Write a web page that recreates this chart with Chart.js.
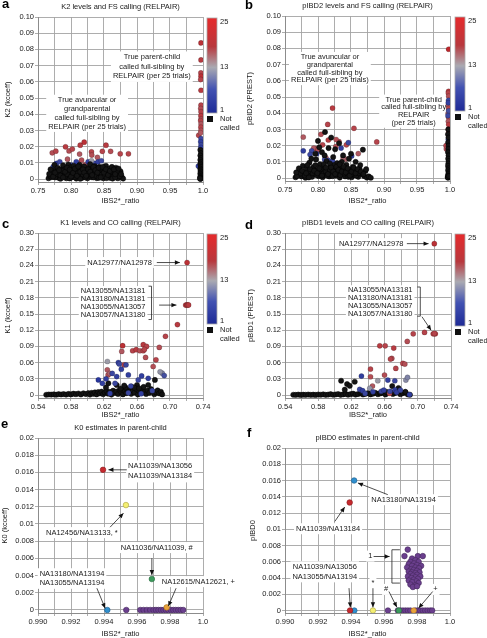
<!DOCTYPE html>
<html>
<head>
<meta charset="utf-8">
<script src="https://cdn.jsdelivr.net/npm/chart.js@4.4.1/dist/chart.umd.min.js"></script>
<style>
  body { margin: 0; background: #fff; width: 487px; height: 638px; position: relative; overflow: hidden; }
  .p { position: absolute; }
  .lt { position: absolute; font: bold 13px "Liberation Sans", Arial, sans-serif; line-height: 13px; color: #000; }
</style>
</head>
<body>
<div class="p" style="left:0;top:0"><canvas id="ca" width="243" height="210"></canvas></div>
<div class="p" style="left:243px;top:0"><canvas id="cb" width="244" height="210"></canvas></div>
<div class="p" style="left:0;top:210px"><canvas id="cc" width="243" height="210"></canvas></div>
<div class="p" style="left:243px;top:210px"><canvas id="cd" width="244" height="210"></canvas></div>
<div class="p" style="left:0;top:420px"><canvas id="ce" width="243" height="218"></canvas></div>
<div class="p" style="left:243px;top:420px"><canvas id="cf" width="244" height="218"></canvas></div>
<div class="lt" style="left:2px;top:-3px">a</div>
<div class="lt" style="left:245px;top:-2px">b</div>
<div class="lt" style="left:2px;top:217px">c</div>
<div class="lt" style="left:245px;top:218px">d</div>
<div class="lt" style="left:1px;top:417px">e</div>
<div class="lt" style="left:247px;top:426px">f</div>
<script>
// ---- tick labels ----
var xLabAB = ['0.75', '0.80', '0.85', '0.90', '0.95', '1.0'];
var yLabAB = ['0', '0.01', '0.02', '0.03', '0.04', '0.05', '0.06', '0.07', '0.08', '0.09', '0.10'];
var xLabCD = ['0.54', '0.58', '0.62', '0.66', '0.70', '0.74'];
var yLabCD = ['0', '0.03', '0.06', '0.09', '0.12', '0.15', '0.18', '0.21', '0.24', '0.27', '0.30'];
var xLabEF = ['0.990', '0.992', '0.994', '0.996', '0.998', '1.0'];
var yLabEF = ['0', '0.002', '0.004', '0.006', '0.008', '0.01', '0.012', '0.014', '0.016', '0.018', '0.02'];

// ---- panel a: K2 vs IBS2*_ratio ; [x, y] not called, [x, y, trials] called ----
var aBlack = [[0.766,0.0005],[0.770,0.0012],[0.772,0.0030],[0.774,0.0055],[0.775,0.0088],[0.777,0.0020],[0.778,0.0045],[0.780,0.0070],[0.781,0.0008],[0.783,0.0035],[0.785,0.0060],[0.786,0.0015],[0.788,0.0085],[0.789,0.0040],[0.790,0.0025],[0.792,0.0065],[0.793,0.0005],[0.795,0.0048],[0.796,0.0090],[0.797,0.0018],[0.799,0.0072],[0.800,0.0033],[0.801,0.0010],[0.803,0.0056],[0.804,0.0082],[0.805,0.0025],[0.807,0.0042],[0.808,0.0003],[0.809,0.0068],[0.811,0.0015],[0.812,0.0050],[0.813,0.0088],[0.815,0.0030],[0.816,0.0062],[0.817,0.0008],[0.819,0.0045],[0.820,0.0078],[0.821,0.0020],[0.823,0.0055],[0.824,0.0035],[0.825,0.0005],[0.827,0.0070],[0.828,0.0028],[0.829,0.0092],[0.831,0.0012],[0.832,0.0048],[0.833,0.0065],[0.835,0.0022],[0.836,0.0080],[0.837,0.0038],[0.839,0.0006],[0.840,0.0058],[0.841,0.0030],[0.843,0.0075],[0.844,0.0015],[0.845,0.0045],[0.847,0.0062],[0.848,0.0025],[0.849,0.0005],[0.851,0.0052],[0.852,0.0035],[0.853,0.0082],[0.855,0.0018],[0.856,0.0042],[0.858,0.0065],[0.859,0.0008],[0.861,0.0030],[0.862,0.0055],[0.864,0.0015],[0.866,0.0040],[0.868,0.0070],[0.869,0.0022],[0.871,0.0005],[0.873,0.0032],[0.875,0.0048],[0.877,0.0012],[0.879,0.0003],
  [0.768,0.0022],[0.776,0.0010],[0.784,0.0002],[0.791,0.0012],[0.798,0.0004],[0.806,0.0012],[0.814,0.0002],[0.818,0.0028],[0.822,0.0010],[0.826,0.0045],[0.830,0.0030],[0.834,0.0010],[0.838,0.0020],[0.842,0.0008],[0.846,0.0028],[0.850,0.0018],[0.854,0.0006],[0.857,0.0028],[0.860,0.0045],[0.863,0.0003],[0.867,0.0010],[0.870,0.0050],[0.874,0.0018],[0.810,0.0035],[0.802,0.0022],[0.794,0.0030],[0.787,0.0050],[0.779,0.0030],[0.771,0.0045],
  [0.767,0.0032],[0.769,0.0060],[0.773,0.0015],[0.776,0.0040],[0.782,0.0055],[0.784,0.0022],[0.788,0.0010],[0.791,0.0045],[0.794,0.0070],[0.798,0.0058],[0.800,0.0015],[0.803,0.0038],[0.806,0.0065],[0.809,0.0020],[0.811,0.0078],[0.814,0.0045],[0.818,0.0060],[0.820,0.0040],[0.823,0.0020],[0.826,0.0060],[0.829,0.0045],[0.832,0.0025],[0.834,0.0075],[0.837,0.0055],[0.840,0.0040],[0.842,0.0070],[0.845,0.0010],[0.848,0.0075],[0.850,0.0040],[0.853,0.0060],[0.856,0.0025],[0.859,0.0050],[0.862,0.0075],[0.865,0.0060],[0.867,0.0030],[0.872,0.0065],[0.876,0.0030],
  [0.996,0.018],[0.997,0.016],[0.996,0.0145],[0.997,0.013],[0.996,0.0118],[0.997,0.0105],[0.996,0.0095],[0.9965,0.0085],[0.997,0.0075],[0.996,0.0065],[0.9968,0.0058],[0.9962,0.005],[0.997,0.0043],[0.996,0.0035],[0.9966,0.0028],[0.997,0.002],[0.9958,0.0014],[0.9965,0.0008],[0.997,0.0003],[0.996,0.0001],[0.9955,0.0004]];
var aCalled = [[0.7716,0.0162,21],[0.777,0.0172,22],[0.7917,0.0199,23],[0.797,0.0174,21],[0.802,0.0185,22],[0.814,0.0209,23],[0.820,0.0228,24],[0.813,0.0154,20],[0.831,0.0168,22],[0.8315,0.0148,21],[0.840,0.0134,20],[0.8475,0.0171,22],[0.853,0.0209,23],[0.860,0.0171,21],[0.8746,0.0156,22],[0.887,0.0156,22],[0.7947,0.0123,20],[0.811,0.0097,19],[0.816,0.0117,21],[0.821,0.0090,20],[0.813,0.0062,19],[0.826,0.0076,20],
  [0.778,0.0097,2],[0.783,0.0107,3],[0.773,0.0076,2],[0.8007,0.0086,3],[0.808,0.0107,2],[0.836,0.0097,3],[0.841,0.0107,2],[0.846,0.0113,3],[0.826,0.0107,2],[0.831,0.0086,3],[0.851,0.0076,2],[0.831,0.0113,13],
  [0.997,0.084,24],[0.997,0.0735,23],[0.9968,0.0655,22],[0.997,0.0635,24],[0.9965,0.0614,22],[0.997,0.0548,23],[0.997,0.0456,22],[0.9965,0.0435,21],[0.997,0.0415,22],[0.9968,0.039,23],[0.997,0.037,21],[0.9965,0.036,22],[0.997,0.034,20],[0.9968,0.032,22],[0.997,0.030,21],[0.9935,0.027,22],[0.9965,0.0285,20],
  [0.997,0.025,3],[0.9965,0.023,2],[0.997,0.021,3],[0.993,0.008,2],[0.9968,0.0195,2]];

// ---- panel b: pIBD2 vs IBS2*_ratio ----
var bBlack = [[0.766,0.0005],[0.770,0.0020],[0.772,0.0048],[0.775,0.0010],[0.777,0.0075],[0.779,0.0032],[0.781,0.0002],[0.783,0.0058],[0.785,0.0018],[0.787,0.0095],[0.789,0.0040],[0.791,0.0008],[0.793,0.0068],[0.795,0.0025],[0.797,0.0115],[0.799,0.0050],[0.800,0.0229],[0.801,0.0012],[0.803,0.0085],[0.805,0.0035],[0.806,0.0160],[0.807,0.0005],[0.809,0.0062],[0.8106,0.0284],[0.811,0.0022],[0.813,0.0105],[0.815,0.0045],[0.816,0.0185],[0.817,0.0010],[0.819,0.0075],[0.820,0.0250],[0.821,0.0030],[0.823,0.0130],[0.825,0.0055],[0.826,0.0178],[0.827,0.0015],[0.829,0.0092],[0.831,0.0038],[0.832,0.0215],[0.833,0.0003],[0.835,0.0068],[0.837,0.0025],[0.838,0.0140],[0.839,0.0048],[0.841,0.0010],[0.843,0.0082],[0.845,0.0030],[0.847,0.0120],[0.849,0.0052],[0.851,0.0005],[0.853,0.0070],[0.855,0.0020],[0.857,0.0100],[0.859,0.0040],[0.861,0.0008],[0.863,0.0058],[0.866,0.0025],[0.868,0.0175],[0.870,0.0012],[0.872,0.0045],[0.874,0.0003],[0.877,0.0010],[0.880,0.0002],
  [0.768,0.0012],[0.774,0.0028],[0.780,0.0015],[0.786,0.0004],[0.792,0.0030],[0.798,0.0018],[0.804,0.0055],[0.808,0.0028],[0.812,0.0040],[0.814,0.0015],[0.818,0.0050],[0.822,0.0012],[0.824,0.0080],[0.828,0.0042],[0.830,0.0060],[0.834,0.0018],[0.836,0.0100],[0.840,0.0028],[0.842,0.0060],[0.846,0.0008],[0.848,0.0035],[0.850,0.0150],[0.852,0.0025],[0.856,0.0045],[0.858,0.0015],[0.862,0.0030],[0.864,0.0080],[0.796,0.0150],[0.802,0.0190],[0.790,0.0120],[0.810,0.0140],
  [0.767,0.0035],[0.771,0.0060],[0.776,0.0045],[0.782,0.0030],[0.784,0.0080],[0.788,0.0055],[0.794,0.0045],[0.796,0.0080],[0.799,0.0030],[0.802,0.0060],[0.806,0.0015],[0.809,0.0085],[0.812,0.0065],[0.815,0.0025],[0.818,0.0090],[0.820,0.0065],[0.823,0.0040],[0.826,0.0025],[0.828,0.0070],[0.831,0.0050],[0.833,0.0085],[0.836,0.0040],[0.839,0.0070],[0.842,0.0035],[0.845,0.0060],[0.848,0.0015],[0.851,0.0040],[0.854,0.0065],[0.857,0.0030],[0.860,0.0055],[0.865,0.0040],[0.869,0.0025],[0.873,0.0055],
  [0.9975,0.030],[0.997,0.027],[0.9978,0.025],[0.9972,0.022],[0.998,0.020],[0.9975,0.018],[0.997,0.016],[0.9978,0.014],[0.9973,0.012],[0.998,0.0105],[0.9975,0.009],[0.997,0.0075],[0.9978,0.006],[0.9972,0.0048],[0.998,0.0035],[0.9975,0.0025],[0.997,0.0015],[0.9978,0.0008],[0.9972,0.0002],[0.9965,0.0005],[0.9982,0.0012]];
var bCalled = [[0.7777,0.0253,20],[0.8147,0.0331,22],[0.8045,0.027,21],[0.7965,0.0182,22],[0.7935,0.0185,20],[0.8156,0.0235,23],[0.8318,0.0225,21],[0.8545,0.0307,22],[0.889,0.0223,22],[0.861,0.0151,20],[0.842,0.0117,19],[0.822,0.0432,23],[0.807,0.0205,22],[0.827,0.0195,21],[0.838,0.0125,18],[0.812,0.0125,20],[0.800,0.0175,21],[0.843,0.0205,22],[0.8275,0.0238,21],
  [0.7777,0.0168,2],[0.846,0.0219,3],[0.818,0.0096,2],[0.8156,0.011,3],[0.851,0.0137,2],[0.7904,0.0168,3],[0.798,0.0150,2],[0.810,0.0115,4],[0.822,0.0105,3],[0.835,0.0185,2],[0.788,0.0145,3],
  [0.998,0.0795,25],[0.9978,0.0535,23],[0.9975,0.0525,22],[0.998,0.0505,21],[0.9975,0.045,20],[0.998,0.043,22],[0.9972,0.040,19],[0.9978,0.0375,21],[0.9975,0.035,20],[0.998,0.033,23],[0.9975,0.030,21],[0.9978,0.028,22],[0.994,0.020,22],[0.9945,0.018,21],
  [0.9978,0.048,3],[0.9975,0.0465,2],[0.998,0.0415,4],[0.997,0.0385,3],[0.9975,0.024,2]];

// ---- panel c: K1 vs IBS2*_ratio ----
var cBlack = [[0.550,0.0005],[0.553,0.0010],[0.556,0.0008],[0.559,0.0012],[0.562,0.0006],[0.565,0.0015],[0.568,0.0010],[0.571,0.0018],[0.574,0.0008],[0.577,0.0020],[0.580,0.0012],[0.583,0.0025],[0.586,0.0015],[0.589,0.0028],[0.592,0.0010],[0.595,0.0032],[0.598,0.0018],[0.601,0.0035],[0.603,0.0008],[0.605,0.0040],[0.607,0.0022],[0.609,0.0048],[0.611,0.0012],[0.613,0.0055],[0.615,0.0030],[0.617,0.0062],[0.619,0.0015],[0.621,0.0045],[0.623,0.0072],[0.625,0.0025],[0.627,0.0058],[0.629,0.0008],[0.631,0.0080],[0.633,0.0040],[0.635,0.0065],[0.637,0.0020],[0.639,0.0090],[0.641,0.0050],[0.643,0.0012],[0.645,0.0075],[0.647,0.0035],[0.649,0.0100],[0.651,0.0060],[0.653,0.0022],[0.655,0.0085],[0.657,0.0045],[0.659,0.0110],[0.661,0.0010],[0.663,0.0070],[0.665,0.0035],[0.667,0.0095],[0.669,0.0055],[0.671,0.0020],[0.673,0.0080],[0.675,0.0040],[0.677,0.0110],[0.679,0.0065],[0.681,0.0015],[0.683,0.0050],[0.685,0.0085],[0.687,0.0030],[0.689,0.0060],[0.6905,0.0012],
  [0.6253,0.0217],[0.6354,0.0186],[0.6535,0.0155],[0.660,0.0186],[0.6736,0.0186],[0.6817,0.028],[0.646,0.0140],[0.668,0.0150],[0.640,0.0120],[0.6445,0.0175],[0.6225,0.0140],[0.657,0.0135],[0.6625,0.0125]];
var cCalled = [[0.7207,0.2453,24],[0.719,0.1665,23],[0.7205,0.1668,24],[0.7215,0.1665,22],[0.7225,0.1668,23],[0.709,0.1304,23],[0.6945,0.1087,22],[0.687,0.0882,21],[0.683,0.0652,22],[0.6676,0.0932,23],[0.6716,0.090,22],[0.6426,0.0913,24],[0.6547,0.082,22],[0.659,0.0839,23],[0.6635,0.082,21],[0.6676,0.082,22],[0.6704,0.0696,21],[0.6443,0.0559,22],[0.624,0.0466,20],[0.625,0.0373,21],[0.627,0.0400,19],[0.6796,0.0528,21],[0.6415,0.0808,20],[0.669,0.0845,22],
  [0.6241,0.0621,13],[0.6905,0.0404,10],[0.688,0.0430,12],
  [0.6374,0.0602,2],[0.6385,0.0575,3],[0.641,0.0478,2],[0.6467,0.0559,3],[0.6495,0.0373,2],[0.6132,0.028,1],[0.618,0.0217,2],[0.6334,0.0217,3],[0.6354,0.0342,2],[0.6615,0.028,3],[0.6656,0.0354,2],[0.6736,0.031,2],[0.693,0.036,4],[0.6273,0.003,2],[0.6495,0.004,3],[0.665,0.0025,2],[0.630,0.0400,3],[0.6525,0.0165,2],[0.6225,0.0300,2],[0.6785,0.0080,3]];

// ---- panel d: pIBD1 vs IBS2*_ratio ----
var dBlack = [[0.550,0.0005],[0.553,0.0003],[0.556,0.0008],[0.559,0.0002],[0.562,0.0006],[0.565,0.0004],[0.568,0.0009],[0.571,0.0003],[0.574,0.0007],[0.577,0.0002],[0.580,0.0010],[0.583,0.0005],[0.586,0.0012],[0.589,0.0003],[0.592,0.0008],[0.595,0.0015],[0.598,0.0005],[0.601,0.0010],[0.604,0.0018],[0.607,0.0004],[0.610,0.0012],[0.613,0.0020],[0.616,0.0006],[0.619,0.0015],[0.622,0.0025],[0.625,0.0008],[0.628,0.0018],[0.631,0.0030],[0.634,0.0010],[0.637,0.0022],[0.640,0.0035],[0.643,0.0012],[0.646,0.0025],[0.649,0.0040],[0.652,0.0015],[0.655,0.0030],[0.658,0.0045],[0.661,0.0010],[0.664,0.0035],[0.667,0.0050],[0.670,0.0020],[0.673,0.0040],[0.676,0.0060],[0.679,0.0015],[0.682,0.0035],[0.685,0.0050],[0.688,0.0010],[0.6905,0.0005],
  [0.6076,0.0264],[0.6148,0.0203],[0.624,0.0246],[0.618,0.0170],[0.6692,0.0166],[0.6767,0.0130],[0.678,0.0080],[0.632,0.0050],[0.655,0.0040],[0.662,0.0060],[0.672,0.0045],[0.685,0.0060],[0.612,0.0100]];
var dCalled = [[0.7199,0.2803,24],[0.7081,0.1159,22],[0.7186,0.1133,23],[0.7211,0.1133,24],[0.7200,0.1140,22],[0.6945,0.1133,22],[0.6873,0.0992,21],[0.6542,0.0911,23],[0.6607,0.0911,22],[0.6687,0.0678,21],[0.6671,0.0666,22],[0.6820,0.0586,22],[0.6844,0.0573,21],[0.643,0.048,22],[0.6599,0.037,21],[0.6735,0.0493,22],[0.643,0.0338,21],[0.6454,0.0166,20],[0.6660,0.0030,21],[0.6710,0.0870,23],
  [0.6518,0.0264,13],[0.6421,0.0124,12],[0.6856,0.0277,11],[0.6876,0.0327,10],
  [0.6321,0.0351,2],[0.6723,0.0264,3],[0.6639,0.0277,2],[0.630,0.0105,3],[0.6335,0.0080,2],[0.646,0.0060,2],[0.656,0.0070,3],[0.659,0.0090,2],[0.6665,0.0070,3],[0.6725,0.0095,2],[0.6745,0.0050,2],[0.679,0.0090,3],[0.690,0.0010,2],[0.6365,0.0030,3]];

// ---- panel e: K0 in parent-child ----
var eRed = [[0.99394,0.0163]];
var eYellow = [[0.99533,0.0122]];
var eGreen = [[0.99690,0.0036]];
var eOrange = [[0.99780,0.0003]];
var eBlue = [[0.99420,0]];
var ePurple = [[0.99535,0],[0.99620,0],[0.99640,0],[0.99660,0],[0.99680,0],[0.99700,0],[0.99715,0],[0.99730,0],[0.99745,0],[0.99760,0],[0.99775,0],[0.99790,0],[0.99805,0],[0.99820,0],[0.99835,0],[0.99850,0],[0.99865,0],[0.99880,0]];

// ---- panel f: pIBD0 in parent-child ----
var fRed = [[0.99392,0.0133],[0.99394,0]];
var fBlue = [[0.99419,0.0160],[0.99420,0]];
var fYellow = [[0.99533,0]];
var fGreen = [[0.99690,0]];
var fOrange = [[0.99780,0]];
var fPurple = [[0.99624,0],[0.99684,0],[0.99700,0],[0.99715,0],[0.99730,0],[0.99745,0],[0.99760,0],[0.99790,0],[0.99805,0],[0.99820,0],[0.99835,0],[0.99850,0],[0.99865,0],[0.99880,0],[0.99892,0],
  [0.99744,0.0075],[0.99724,0.0067],[0.99805,0.0067],[0.99835,0.0067],[0.99770,0.0064],[0.99790,0.0062],[0.99760,0.0060],[0.99810,0.0060],[0.99782,0.0058],[0.99750,0.0057],[0.99800,0.0056],[0.99770,0.0055],[0.99825,0.0055],[0.99740,0.0053],[0.99790,0.0053],[0.99812,0.0052],[0.99765,0.0051],[0.99780,0.0050],[0.99800,0.0049],[0.99750,0.0048],[0.99770,0.0047],[0.99815,0.0047],[0.99790,0.0046],[0.99760,0.0045],[0.99800,0.0044],[0.99775,0.0043],[0.99745,0.0042],[0.99820,0.0042],[0.99790,0.0041],[0.99765,0.0040],[0.99805,0.0039],[0.99780,0.0038],[0.99750,0.0037],[0.99795,0.0036],[0.99770,0.0035],[0.99810,0.0034],[0.99760,0.0032],[0.99790,0.0031],[0.99775,0.0029],[0.99800,0.0030]];

var FONT = '"Liberation Sans", Arial, sans-serif';
Chart.defaults.font.family = FONT;
Chart.defaults.font.size = 7.5;
Chart.defaults.color = '#1a1a1a';

function hex2rgb(h) { return [parseInt(h.substr(1,2),16), parseInt(h.substr(3,2),16), parseInt(h.substr(5,2),16)]; }
function mix(a, b, t) {
  var A = hex2rgb(a), B = hex2rgb(b);
  return 'rgb(' + A.map(function(v, i) { return Math.round(v + (B[i] - v) * t); }).join(',') + ')';
}
// 1 -> blue, 13 -> grey, 25 -> red
function trialColor(n) {
  if (n <= 13) return mix('#28369e', '#9c9ca8', (n - 1) / 12);
  return mix('#9c9ca8', '#be272c', (n - 13) / 12);
}

var extras = {};

function arrow(ctx, x1, y1, x2, y2) {
  ctx.beginPath(); ctx.moveTo(x1, y1); ctx.lineTo(x2, y2); ctx.stroke();
  var a = Math.atan2(y2 - y1, x2 - x1), L = 5, W = 2.2;
  ctx.beginPath();
  ctx.moveTo(x2, y2);
  ctx.lineTo(x2 - L * Math.cos(a) + W * Math.sin(a), y2 - L * Math.sin(a) - W * Math.cos(a));
  ctx.lineTo(x2 - L * Math.cos(a) - W * Math.sin(a), y2 - L * Math.sin(a) + W * Math.cos(a));
  ctx.closePath(); ctx.fill();
}

var annot = {
  id: 'annot',
  beforeDatasetsDraw: function(chart) {
    var e = extras[chart.canvas.id], ctx = chart.ctx;
    var xs = chart.scales.x, ys = chart.scales.y;
    ctx.save();
    ctx.font = '7.5px ' + FONT;
    ctx.textBaseline = 'middle';
    (e.notes || []).forEach(function(n) {
      var px = xs.getPixelForValue(n.x), py = ys.getPixelForValue(n.y), lh = n.lh || 9;
      var w = Math.max.apply(null, n.t.map(function(s) { return ctx.measureText(s).width; }));
      var al = n.align || 'center';
      var left = al === 'center' ? px - w / 2 : (al === 'left' ? px : px - w);
      ctx.fillStyle = '#fff';
      ctx.fillRect(left - 2, py - lh / 2 - 1, w + 4, lh * n.t.length + 2);
      ctx.fillStyle = '#1a1a1a';
      ctx.textAlign = al;
      n.t.forEach(function(s, i) { ctx.fillText(s, px, py + i * lh); });
    });
    ctx.restore();
  },
  afterDatasetsDraw: function(chart) {
    var e = extras[chart.canvas.id], ctx = chart.ctx;
    var xs = chart.scales.x, ys = chart.scales.y;
    ctx.save();
    ctx.strokeStyle = '#222'; ctx.fillStyle = '#111'; ctx.lineWidth = 0.8;
    (e.arrows || []).forEach(function(a) {
      arrow(ctx, xs.getPixelForValue(a[0]), ys.getPixelForValue(a[1]), xs.getPixelForValue(a[2]), ys.getPixelForValue(a[3]));
    });
    (e.brackets || []).forEach(function(b) {
      var x = xs.getPixelForValue(b.x), y1 = ys.getPixelForValue(b.y1), y2 = ys.getPixelForValue(b.y2);
      ctx.beginPath();
      ctx.moveTo(x + b.d, y1); ctx.lineTo(x, y1); ctx.lineTo(x, y2); ctx.lineTo(x + b.d, y2);
      ctx.stroke();
    });
    ctx.restore();
  },
  afterDraw: function(chart) {
    var e = extras[chart.canvas.id], ctx = chart.ctx, ca = chart.chartArea;
    ctx.save();
    ctx.font = '7.5px ' + FONT;
    ctx.fillStyle = '#1a1a1a';
    ctx.textAlign = 'center'; ctx.textBaseline = 'middle';
    ctx.fillText(e.title, (ca.left + ca.right) / 2, ca.top - 10);
    if (e.bar) {
      var bx = ca.right + e.bar[0], by = ca.top + 1, bw = 10, bh = e.bar[1];
      var g = ctx.createLinearGradient(0, by, 0, by + bh);
      g.addColorStop(0, '#e62a2c'); g.addColorStop(0.3, '#b8383d'); g.addColorStop(0.52, '#aaaab2');
      g.addColorStop(0.75, '#4252b2'); g.addColorStop(1, '#1e2a96');
      ctx.fillStyle = g; ctx.fillRect(bx, by, bw, bh);
      ctx.strokeStyle = '#aaa'; ctx.lineWidth = 0.8; ctx.strokeRect(bx, by, bw, bh);
      ctx.fillStyle = '#1a1a1a'; ctx.textAlign = 'left';
      ctx.fillText('25', bx + bw + 3, by + 4);
      ctx.fillText('13', bx + bw + 3, by + bh / 2 + 1);
      ctx.fillText('1', bx + bw + 3, by + bh - 3);
      ctx.fillStyle = '#111'; ctx.fillRect(bx, by + bh + 3, 6, 6);
      ctx.fillStyle = '#1a1a1a';
      ctx.fillText('Not', bx + bw + 3, by + bh + 6);
      ctx.fillText('called', bx + bw + 3, by + bh + 15);
    }
    ctx.restore();
  }
};

function labelFor(labs, v) {
  for (var i = 0; i < labs.length; i++) if (Math.abs(Number(labs[i]) - v) < 1e-9) return labs[i];
  return '';
}

function pts(arr) { return arr.map(function(p) { return { x: p[0], y: p[1] }; }); }

function trialSets(black, called, blackOnTop) {
  var k = { data: pts(black), backgroundColor: '#141414', borderColor: '#000', borderWidth: 0.5, pointRadius: 2.6 };
  var c = { data: pts(called), backgroundColor: called.map(function(p) { return trialColor(p[2]); }),
            borderColor: 'rgba(0,0,0,0.35)', borderWidth: 0.5, pointRadius: 2.6 };
  return blackOnTop ? [k, c] : [c, k];
}

function dotSet(arr, fill, edge) {
  return { data: pts(arr), backgroundColor: fill, borderColor: edge, borderWidth: 0.6, pointRadius: 2.8 };
}

function build(id, s) {
  extras[id] = s;
  var cv = document.getElementById(id), W = cv.width, H = cv.height;
  var xv = s.xLab.map(Number), yv = s.yLab.map(Number), xg = [];
  xv.forEach(function(v, i) { xg.push(v); if (i < xv.length - 1) xg.push((v + xv[i + 1]) / 2); });
  new Chart(cv, {
    type: 'scatter',
    data: { datasets: s.sets },
    options: {
      responsive: false, animation: false, devicePixelRatio: 1, events: [],
      layout: { padding: { left: 0, top: s.area[1], right: W - s.area[2], bottom: 0 } },
      plugins: { legend: { display: false }, tooltip: { enabled: false } },
      scales: {
        x: {
          type: 'linear', min: xv[0], max: xv[xv.length - 1],
          afterBuildTicks: function(sc) { sc.ticks = xg.map(function(v) { return { value: v }; }); },
          afterFit: function(sc) { sc.height = H - s.area[3]; },
          grid: { color: '#a4a4a4', lineWidth: 0.9, tickLength: 3 },
          border: { color: '#8c8c8c' },
          ticks: { autoSkip: false, maxRotation: 0, padding: 1, callback: function(v) { return labelFor(s.xLab, v); } },
          title: { display: true, text: 'IBS2*_ratio', font: { size: 7.5 }, padding: { top: 0, bottom: s.xtp } }
        },
        y: {
          type: 'linear', min: s.yMin, max: yv[yv.length - 1],
          afterBuildTicks: function(sc) { sc.ticks = yv.map(function(v) { return { value: v }; }); },
          afterFit: function(sc) { sc.width = s.area[0]; },
          grid: { color: '#a4a4a4', lineWidth: 0.9, tickLength: 3 },
          border: { color: '#8c8c8c' },
          ticks: { autoSkip: false, padding: 1, callback: function(v) { return labelFor(s.yLab, v); } },
          title: { display: true, text: s.yTitle, font: { size: 7.5 }, padding: { top: s.ytp, bottom: 0 } }
        }
      }
    },
    plugins: [annot]
  });
}

var FOUR = ['NA13055/NA13181', 'NA13180/NA13181', 'NA13055/NA13057', 'NA13057/NA13180'];

build('ca', {
  title: 'K2 levels and FS calling (RELPAIR)', yTitle: 'K2 (kcoeff)',
  xLab: xLabAB, yLab: yLabAB, yMin: -0.0018, area: [38, 17, 203, 182], xtp: 5, ytp: 3, bar: [4, 95],
  sets: trialSets(aBlack, aCalled, true),
  notes: [
    { t: ['True parent-child', 'called full-sibling by', 'RELPAIR (per 25 trials)'], x: 0.9225, y: 0.0752, lh: 9.5 },
    { t: ['True avuncular or', 'grandparental', 'called full-sibling by', 'RELPAIR (per 25 trials)'], x: 0.8244, y: 0.0487, lh: 8.8 }
  ]
});

build('cb', {
  title: 'pIBD2 levels and FS calling (RELPAIR)', yTitle: 'pBID2 (PREST)',
  xLab: xLabAB, yLab: yLabAB, yMin: -0.0018, area: [42, 16, 207, 181], xtp: 5, ytp: 2, bar: [5, 94],
  sets: trialSets(bBlack, bCalled, true),
  notes: [
    { t: ['True avuncular or', 'grandparental', 'called full-sibling by', 'RELPAIR (per 25 trials)'], x: 0.818, y: 0.0748, lh: 7.8 },
    { t: ['True parent-child', 'called full-sibling by', 'RELPAIR', '(per 25 trials)'], x: 0.945, y: 0.0485, lh: 7.8 }
  ]
});

build('cc', {
  title: 'K1 levels and CO calling (RELPAIR)', yTitle: 'K1 (kcoeff)',
  xLab: xLabCD, yLab: yLabCD, yMin: -0.0055, area: [38, 23, 203, 188], xtp: 1, ytp: 3, bar: [4, 90],
  sets: trialSets(cBlack, cCalled, false),
  notes: [
    { t: ['NA12977/NA12978'], x: 0.678, y: 0.2453, align: 'right' },
    { t: FOUR, x: 0.631, y: 0.1925, lh: 8 }
  ],
  arrows: [[0.684, 0.2453, 0.712, 0.2453], [0.6868, 0.1665, 0.7078, 0.1665]],
  brackets: [{ x: 0.6776, y1: 0.2015, y2: 0.1398, d: -3 }]
});

build('cd', {
  title: 'pIBD1 levels and CO calling (RELPAIR)', yTitle: 'pBID1 (PREST)',
  xLab: xLabCD, yLab: yLabCD, yMin: -0.0055, area: [42, 23, 208, 188], xtp: 1, ytp: 3, bar: [4, 92],
  sets: trialSets(dBlack, dCalled, false),
  notes: [
    { t: ['NA12977/NA12978'], x: 0.6828, y: 0.2803, align: 'right' },
    { t: FOUR, x: 0.6547, y: 0.194, lh: 8 }
  ],
  arrows: [[0.6868, 0.2803, 0.713, 0.2803], [0.705, 0.145, 0.716, 0.12]],
  brackets: [{ x: 0.703, y1: 0.2, y2: 0.146, d: -3 }]
});

build('ce', {
  title: 'K0 estimates in parent-child', yTitle: 'K0 (kcoeff)',
  xLab: xLabEF, yLab: yLabEF, yMin: -0.00035, area: [38, 18, 203, 193], xtp: 0, ytp: 0.5,
  sets: [dotSet(eRed, '#c62a2e', '#8a1a1e'), dotSet(eYellow, '#f4ef72', '#a8a040'), dotSet(eGreen, '#3c9a5c', '#256a3c'),
         dotSet(eOrange, '#e8a23a', '#a87020'), dotSet(eBlue, '#2f8fce', '#1a5a8a'), dotSet(ePurple, '#6b3f8e', '#45285c')],
  notes: [
    { t: ['NA11039/NA13056', 'NA11039/NA13184'], x: 0.99546, y: 0.0167, lh: 10, align: 'left' },
    { t: ['NA12456/NA13133, *'], x: 0.99266, y: 0.009 },
    { t: ['NA11036/NA11039, #'], x: 0.9972, y: 0.00726 },
    { t: ['NA12615/NA12621, +'], x: 0.9975, y: 0.0033, align: 'left' },
    { t: ['NA13180/NA13194', 'NA13055/NA13194'], x: 0.99206, y: 0.0042, lh: 9.3 }
  ],
  arrows: [[0.99538, 0.0163, 0.99427, 0.0163], [0.99437, 0.00963, 0.99518, 0.01126], [0.9969, 0.00602, 0.9969, 0.00408],
           [0.99837, 0.00253, 0.9979, 0.00045], [0.99357, 0.00253, 0.99407, 0.0002]]
});

build('cf', {
  title: 'pIBD0 estimates in parent-child', yTitle: 'pIBD0',
  xLab: xLabEF, yLab: yLabEF, yMin: -0.0003, area: [42, 28, 207, 193], xtp: 0, ytp: 5,
  sets: [dotSet(fRed, '#c62a2e', '#8a1a1e'), dotSet(fBlue, '#2f8fce', '#1a5a8a'), dotSet(fYellow, '#f4ef72', '#a8a040'),
         dotSet(fGreen, '#3c9a5c', '#256a3c'), dotSet(fOrange, '#e8a23a', '#a87020'), dotSet(fPurple, '#6b3f8e', '#45285c')],
  notes: [
    { t: ['NA13180/NA13194'], x: 0.99523, y: 0.01364, align: 'left' },
    { t: ['NA11039/NA13184'], x: 0.99261, y: 0.01007 },
    { t: ['NA11039/NA13056', 'NA13055/NA13194'], x: 0.99241, y: 0.00535, lh: 9.5 },
    { t: ['*'], x: 0.99533, y: 0.0034 },
    { t: ['#'], x: 0.99613, y: 0.0026 },
    { t: ['+'], x: 0.99911, y: 0.0026 },
    { t: ['1'], x: 0.99517, y: 0.0067 }
  ],
  arrows: [[0.99623, 0.01426, 0.99442, 0.0157], [0.99302, 0.01097, 0.99362, 0.01274], [0.99388, 0.00276, 0.99396, 0.0004],
           [0.99533, 0.00275, 0.99533, 0.0004], [0.9963, 0.00234, 0.99678, 0.0004], [0.99895, 0.00234, 0.9981, 0.0003],
           [0.99537, 0.00665, 0.99634, 0.00665]],
  brackets: [{ x: 0.99648, y1: 0.00748, y2: 0.00338, d: 8 }]
});
</script>
</body>
</html>
